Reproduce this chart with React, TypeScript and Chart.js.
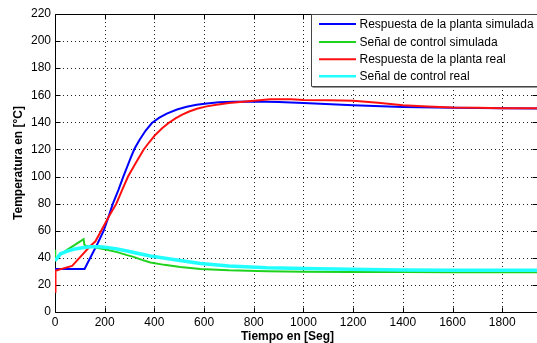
import React, { useEffect, useRef } from "react";
import { Chart, registerables } from "chart.js";

Chart.register(...registerables);

const X_TICKS = [0, 200, 400, 600, 800, 1000, 1200, 1400, 1600, 1800];
const Y_TICKS = [0, 20, 40, 60, 80, 100, 120, 140, 160, 180, 200, 220];

const SERIES_NAMES = [
  "Respuesta de la planta simulada",
  "Señal de control simulada",
  "Respuesta de la planta real",
  "Señal de control real",
];

// Respuesta de la planta simulada
const SIM_PLANT_T = [0, 119, 142, 170, 196, 215, 233, 255, 275, 290, 305, 320, 340, 365, 390, 420, 450, 491, 530, 570, 611, 660, 720, 800, 900, 1000, 1200, 1400, 1600, 1800, 1940];
const SIM_PLANT_V = [31.8, 31.8, 40, 50, 60, 70, 80, 90, 100, 107, 114, 120.5, 127, 134, 139.5, 143.5, 146.5, 149.5, 151.5, 153, 154, 154.8, 155.3, 155.4, 155, 154.3, 152.6, 151.4, 150.8, 150.4, 150.2];

// Señal de control simulada
const SIM_CTRL_T = [0, 1, 20, 50, 80, 115, 118, 123, 160, 209, 250, 290, 316, 350, 384, 440, 504, 585, 700, 853, 1000, 1187, 1400, 1600, 1800, 1940];
const SIM_CTRL_V = [46, 38, 42, 46, 49.5, 53.8, 50, 48.7, 47.8, 46, 44.2, 42, 40.7, 38.5, 36.5, 34.8, 33.2, 31.8, 30.8, 30.1, 29.8, 29.6, 29.5, 29.4, 29.4, 29.4];

// Respuesta de la planta real
const REAL_PLANT_T = [0, 2, 30, 69, 102, 142, 162, 186, 215, 247, 270, 294, 325, 357, 380, 400, 430, 457, 485, 510, 540, 571, 610, 650, 700, 745, 800, 866, 950, 1000, 1100, 1200, 1300, 1400, 1500, 1600, 1700, 1800, 1940];
const REAL_PLANT_V = [15, 30.5, 32, 34, 40.7, 48.7, 52, 60, 70, 80, 90, 100, 110, 120, 125.5, 130, 135.5, 139.5, 143, 145.5, 148, 150, 151.8, 153, 154.3, 155, 156, 157, 157, 156.6, 156.3, 156, 154.5, 152.6, 151.8, 151, 150.8, 150.5, 150.5];

// Señal de control real
const REAL_CTRL_T = [0, 10, 22, 50, 75, 110, 142, 180, 209, 250, 290, 340, 384, 450, 504, 585, 700, 853, 1000, 1187, 1400, 1600, 1800, 1940];
const REAL_CTRL_V = [38, 40, 43, 45, 46.3, 47.5, 48.2, 48.2, 47.7, 46.5, 45, 43, 41.3, 39.5, 38, 35.8, 34, 32.6, 32.2, 31.6, 31, 30.8, 30.8, 30.8];

const COLORS = ["#0000ff", "#1ed21e", "#ff1010", "#22ffff"];
const WIDTHS = [2, 2, 2, 3.5];

const toPoints = (t: number[], v: number[]) => t.map((x, i) => ({ x, y: v[i] }));

const FONT = "'Liberation Sans', Arial, Helvetica, sans-serif";

const matlabPlugin = {
  id: "matlabDecor",
  beforeDatasetsDraw(chart: any) {
    const { ctx, chartArea: a, scales } = chart;
    const xs = scales.x;
    const ys = scales.y;
    ctx.save();
    ctx.strokeStyle = "#222";
    ctx.lineWidth = 1;
    ctx.setLineDash([1, 3]);
    X_TICKS.forEach((v) => {
      if (v === 0) return;
      const px = Math.round(xs.getPixelForValue(v)) + 0.5;
      ctx.beginPath();
      ctx.moveTo(px, a.top);
      ctx.lineTo(px, a.bottom);
      ctx.stroke();
    });
    Y_TICKS.forEach((v) => {
      if (v === 0 || v === 220) return;
      const py = Math.round(ys.getPixelForValue(v)) + 0.5;
      ctx.beginPath();
      ctx.moveTo(a.left, py);
      ctx.lineTo(a.right, py);
      ctx.stroke();
    });
    ctx.setLineDash([]);
    ctx.strokeStyle = "#000";
    const L = Math.round(a.left) + 0.5;
    const T = Math.round(a.top) + 0.5;
    const B = Math.round(a.bottom) + 0.5;
    const R = Math.round(a.right) + 0.5;
    ctx.beginPath();
    ctx.moveTo(L, T);
    ctx.lineTo(R, T);
    ctx.moveTo(L, T);
    ctx.lineTo(L, B);
    ctx.lineTo(R, B);
    ctx.lineTo(R, T);
    ctx.stroke();
    const tl = 5;
    X_TICKS.forEach((v) => {
      const px = Math.round(xs.getPixelForValue(v)) + 0.5;
      ctx.beginPath();
      ctx.moveTo(px, B);
      ctx.lineTo(px, B - tl);
      ctx.moveTo(px, T);
      ctx.lineTo(px, T + tl);
      ctx.stroke();
    });
    Y_TICKS.forEach((v) => {
      const py = Math.round(ys.getPixelForValue(v)) + 0.5;
      ctx.beginPath();
      ctx.moveTo(L, py);
      ctx.lineTo(L + tl, py);
      ctx.moveTo(R, py);
      ctx.lineTo(R - tl, py);
      ctx.stroke();
    });
    ctx.restore();
  },
  afterDraw(chart: any) {
    const { ctx, chartArea: a } = chart;
    ctx.save();
    const lx = 311.5;
    const ly = Math.round(a.top) + 0.5;
    const lb = 86.5;
    ctx.fillStyle = "#fff";
    ctx.fillRect(lx, ly, 540 - lx, lb - ly);
    ctx.strokeStyle = "#444";
    ctx.lineWidth = 1;
    ctx.beginPath();
    ctx.moveTo(545, ly);
    ctx.lineTo(lx, ly);
    ctx.lineTo(lx, lb);
    ctx.lineTo(545, lb);
    ctx.stroke();
    ctx.strokeStyle = "#999";
    ctx.beginPath();
    ctx.moveTo(lx + 1, lb + 1);
    ctx.lineTo(545, lb + 1);
    ctx.stroke();
    const rows = [24, 42, 59.3, 76.3];
    ctx.font = "12px " + FONT;
    ctx.textBaseline = "middle";
    ctx.textAlign = "left";
    rows.forEach((y, i) => {
      ctx.strokeStyle = COLORS[i];
      ctx.lineWidth = i === 3 ? 2.5 : 2;
      ctx.beginPath();
      ctx.moveTo(319, y);
      ctx.lineTo(356, y);
      ctx.stroke();
      ctx.fillStyle = "#000";
      ctx.fillText(SERIES_NAMES[i], 359.5, y + 0.5);
    });
    ctx.fillStyle = "#000";
    ctx.font = "bold 12px " + FONT;
    ctx.textAlign = "center";
    ctx.textBaseline = "middle";
    ctx.fillText("Tiempo en [Seg]", 287.5, 337);
    ctx.translate(19, 163);
    ctx.rotate(-Math.PI / 2);
    ctx.fillText("Temperatura en [°C]", 0, 0);
    ctx.restore();
  },
};

export default function App() {
  const ref = useRef<HTMLCanvasElement | null>(null);

  useEffect(() => {
    if (!ref.current) return;
    const series = [
      toPoints(SIM_PLANT_T, SIM_PLANT_V),
      toPoints(SIM_CTRL_T, SIM_CTRL_V),
      toPoints(REAL_PLANT_T, REAL_PLANT_V),
      toPoints(REAL_CTRL_T, REAL_CTRL_V),
    ];
    const chart = new Chart(ref.current, {
      type: "line",
      data: {
        datasets: series.map((data, i) => ({
          label: SERIES_NAMES[i],
          data,
          borderColor: COLORS[i],
          backgroundColor: COLORS[i],
          borderWidth: WIDTHS[i],
          pointRadius: 0,
          tension: 0,
          fill: false,
          order: 4 - i,
        })),
      },
      options: {
        responsive: false,
        animation: false,
        devicePixelRatio: 1,
        layout: { padding: { top: 14, left: 0, right: 0, bottom: 0 } },
        plugins: {
          legend: { display: false },
          tooltip: { enabled: false },
          title: { display: false },
        },
        scales: {
          x: {
            type: "linear",
            min: 0,
            max: 1940,
            afterBuildTicks: (s: any) => {
              s.ticks = X_TICKS.map((v) => ({ value: v }));
            },
            afterFit: (s: any) => {
              s.height = 31;
            },
            grid: { display: false, drawTicks: false, tickLength: 0 },
            border: { display: false },
            ticks: {
              autoSkip: false,
              maxRotation: 0,
              padding: 3,
              color: "#000",
              font: { family: FONT, size: 12 },
              callback: (v: any) => String(v),
            },
          },
          y: {
            type: "linear",
            min: 0,
            max: 220,
            afterBuildTicks: (s: any) => {
              s.ticks = Y_TICKS.map((v) => ({ value: v }));
            },
            afterFit: (s: any) => {
              s.width = 55;
            },
            grid: { display: false, drawTicks: false, tickLength: 0 },
            border: { display: false },
            ticks: {
              autoSkip: false,
              padding: 4,
              color: "#000",
              font: { family: FONT, size: 12 },
              callback: (v: any) => String(v),
            },
          },
        },
      },
      plugins: [matlabPlugin],
    });
    return () => chart.destroy();
  }, []);

  return (
    <div style={{ position: "absolute", left: 0, top: 0, width: 537, height: 343, background: "#fff" }}>
      <canvas ref={ref} width={537} height={343} style={{ display: "block" }} />
    </div>
  );
}
